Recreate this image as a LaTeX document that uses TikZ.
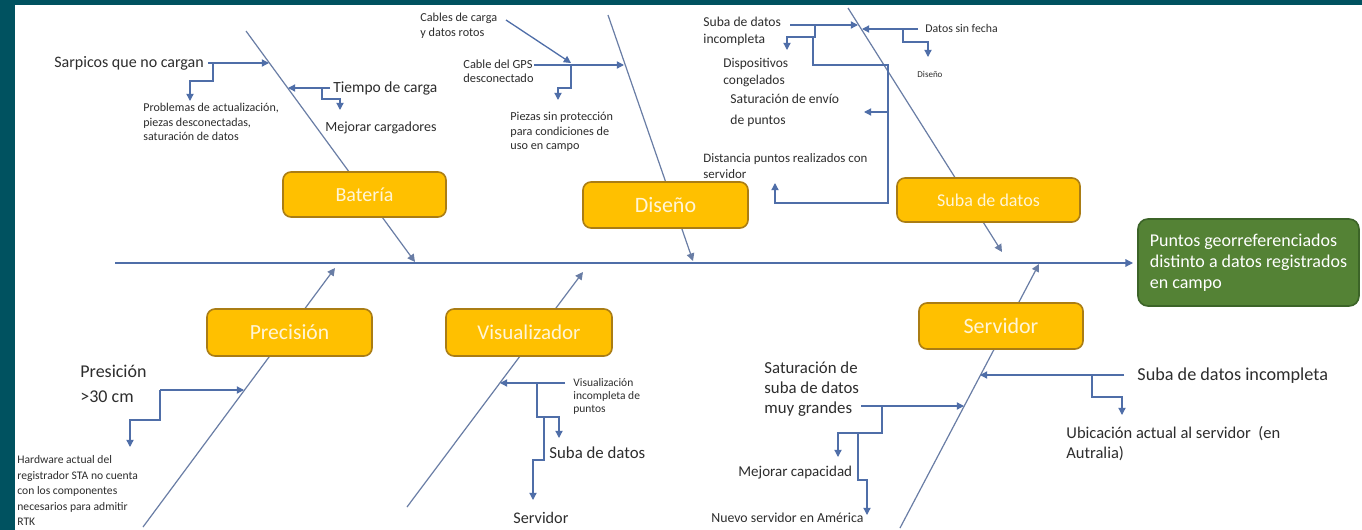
\documentclass[tikz,border=0pt]{standalone}
\usepackage{fontspec}
\setmainfont{Carlito}
\usetikzlibrary{arrows.meta}
\definecolor{teal0}{RGB}{0,82,96}
\definecolor{lnc}{RGB}{79,110,168}
\definecolor{bonec}{RGB}{105,125,165}
\definecolor{txt}{RGB}{45,45,45}
\definecolor{ybox}{RGB}{255,192,0}
\definecolor{yborder}{RGB}{170,125,20}
\definecolor{gbox}{RGB}{84,130,53}
\definecolor{gborder}{RGB}{60,100,40}
\definecolor{ytxt}{RGB}{255,245,215}
\newcommand{\myfs}[2]{\fontsize{#1}{#2}\selectfont}
\begin{document}
\begin{tikzpicture}[x=0.5pt,y=-0.5pt,
  ln/.style={draw=lnc, line width=0.65pt},
  arr/.style={ln, -{Triangle[length=3.6pt,width=3.6pt]}},
  bone/.style={draw=bonec, line width=0.6pt, -{Triangle[length=3.8pt,width=3.8pt]}},
  cat/.style={draw=yborder, fill=ybox, line width=0.8pt, rounded corners=4pt, text=ytxt, inner sep=0pt},
  lbl/.style={anchor=base west, inner sep=0pt, text=txt, align=left}]
\useasboundingbox (0,0) rectangle (1362,530);
\fill[teal0] (0,0) rectangle (1362,530);
\fill[white] (15,5) rectangle (1362,530);

% spine and bones
\coordinate (sp0) at (115,263);
\coordinate (sp1) at (1133,263);
\draw[bone,draw=lnc] (sp0) -- (sp1);
\coordinate (b1s) at (246,31);   \coordinate (b1e) at (415,262);
\coordinate (b2s) at (608,15);   \coordinate (b2e) at (693,261);
\coordinate (b3s) at (848,8);    \coordinate (b3e) at (1002,252);
\coordinate (b4s) at (143,527);  \coordinate (b4e) at (335,268);
\coordinate (b5s) at (407,507);  \coordinate (b5e) at (583,272);
\coordinate (b6s) at (900,528);  \coordinate (b6e) at (1039,264);
\draw[bone] (b1s) -- (b1e);
\draw[bone] (b2s) -- (b2e);
\draw[bone] (b3s) -- (b3e);
\draw[bone] (b4s) -- (b4e);
\draw[bone] (b5s) -- (b5e);
\draw[bone] (b6s) -- (b6e);

% category boxes
\node[cat, minimum width=81.5pt, minimum height=22.5pt, font=\myfs{10}{12}] (bat) at (364.5,194.5) {Batería};
\node[cat, minimum width=82.5pt, minimum height=23pt, font=\myfs{11}{13}] (dis) at (665.5,205) {Diseño};
\node[cat, minimum width=91.5pt, minimum height=22pt, font=\myfs{9}{11}] (sub) at (988.5,200) {Suba de datos};
\node[cat, minimum width=82.5pt, minimum height=23.5pt, font=\myfs{10.8}{13}] (pre) at (289.5,332.5) {Precisión};
\node[cat, minimum width=83pt, minimum height=23.5pt, font=\myfs{10.5}{13}] (vis) at (529,332.5) {Visualizador};
\node[cat, minimum width=82pt, minimum height=23pt, font=\myfs{11}{13}] (ser) at (1001,326) {Servidor};
\node[draw=gborder, fill=gbox, line width=0.8pt, rounded corners=5pt, text=white, align=left,
      minimum width=110.5pt, minimum height=43.5pt, inner sep=0pt, font=\myfs{9}{10.5}] (eff) at (1248.5,262.5)
      {Puntos georreferenciados\\distinto a datos registrados\\en campo};

% Bateria
\node[lbl, font=\myfs{8}{10}] (t11) at (54,68) {Sarpicos que no cargan};
\draw[arr] (208,63) -- (269,63);
\draw[arr] (213,63) -- (213,81) -- (190,81) -- (190,101);
\node[lbl, font=\myfs{6}{7.25}] (t12) at (143,140.6) {Problemas de actualización,\\piezas desconectadas,\\saturación de datos};
\node[lbl, font=\myfs{7.75}{9.5}] (t13) at (333,92.6) {Tiempo de carga};
\draw[arr] (330,88) -- (288,88);
\draw[arr] (322,88) -- (322,99) -- (340,99) -- (340,110);
\node[lbl, font=\myfs{7}{9}] (t14) at (325,131) {Mejorar cargadores};

% Diseno
\node[lbl, font=\myfs{6.1}{7.5}] (t21) at (420,36.7) {Cables de carga\\y datos rotos};
\draw[arr] (506,20) -- (571,63);
\node[lbl, font=\myfs{6.2}{6.75}] (t22) at (463,82.2) {Cable del GPS\\desconectado};
\draw[arr] (534,65) -- (624,65);
\draw[arr] (571,65) -- (571,88) -- (558,88) -- (558,100);
\node[lbl, font=\myfs{6.1}{7.25}] (t23) at (510,149.7) {Piezas sin protección\\para condiciones de\\uso en campo};

% Suba de datos
\node[lbl, font=\myfs{6.8}{8.5}] (t31) at (703,43) {Suba de datos\\incompleta};
\draw[arr] (790,25) -- (858,25);
\draw[arr] (815,25) -- (815,37) -- (787,37) -- (787,50);
\draw[ln] (813,37) -- (813,65) -- (888,65) -- (888,112);
\draw[arr] (888,112) -- (864,112);
\draw[arr] (888,112) -- (888,203) -- (775,203) -- (775,183);
\node[lbl, font=\myfs{6.7}{8.5}] (t32) at (723,84) {Dispositivos\\congelados};
\node[lbl, font=\myfs{6.8}{10}] (t33) at (730,124) {Saturación de envío\\de puntos};
\node[lbl, font=\myfs{6.45}{8}] (t34) at (703,178) {Distancia puntos realizados con\\servidor};
\node[lbl, font=\myfs{5.9}{7.5}] (t35) at (925,32.5) {Datos sin fecha};
\draw[arr] (918,29) -- (862,29);
\draw[arr] (903,29) -- (903,42) -- (928,42) -- (928,57);
\node[lbl, font=\myfs{4.5}{6}] (t36) at (917,77.7) {Diseño};

% Precision
\node[lbl, font=\myfs{9}{12.5}] (t41) at (80,402.4) {Presición\\>30 cm};
\draw[arr] (160,390) -- (244,390);
\draw[arr] (160,390) -- (160,420) -- (130,420) -- (130,447);
\node[lbl, font=\myfs{5.8}{7.75}] (t42) at (17,525.5) {Hardware actual del\\registrador STA no cuenta\\con los componentes\\necesarios para admitir\\RTK};

% Visualizador
\node[lbl, font=\myfs{5.75}{6.5}] (t51) at (573,412.5) {Visualización\\incompleta de\\puntos};
\draw[arr] (565,383) -- (500,383);
\draw[arr] (537,383) -- (537,417) -- (559,417) -- (559,438);
\draw[arr] (544,417) -- (544,460) -- (533,460) -- (533,500);
\node[lbl, font=\myfs{8.4}{10}] (t52) at (549,458) {Suba de datos};
\node[lbl, font=\myfs{8.1}{10}] (t53) at (513,523) {Servidor};

% Servidor
\node[lbl, font=\myfs{9.1}{11}] (t61) at (1137,380.5) {Suba de datos incompleta};
\draw[arr] (1124,375) -- (980,375);
\draw[arr] (1092,375) -- (1092,397) -- (1122,397) -- (1122,415);
\node[lbl, font=\myfs{8.25}{10}] (t62) at (1066,458) {Ubicación actual al servidor\ \ (en\\Autralia)};
\node[lbl, font=\myfs{8.4}{10}] (t63) at (764,413) {Saturación de\\suba de datos\\muy grandes};
\draw[arr] (861,406) -- (964,406);
\draw[arr] (882,406) -- (882,433) -- (838,433) -- (838,457);
\draw[arr] (858,433) -- (858,480) -- (867,480) -- (867,515);
\node[lbl, font=\myfs{7.5}{9}] (t64) at (738,476.5) {Mejorar capacidad};
\node[lbl, font=\myfs{6.9}{8}] (t65) at (711,522) {Nuevo servidor en América};
\end{tikzpicture}
\end{document}
